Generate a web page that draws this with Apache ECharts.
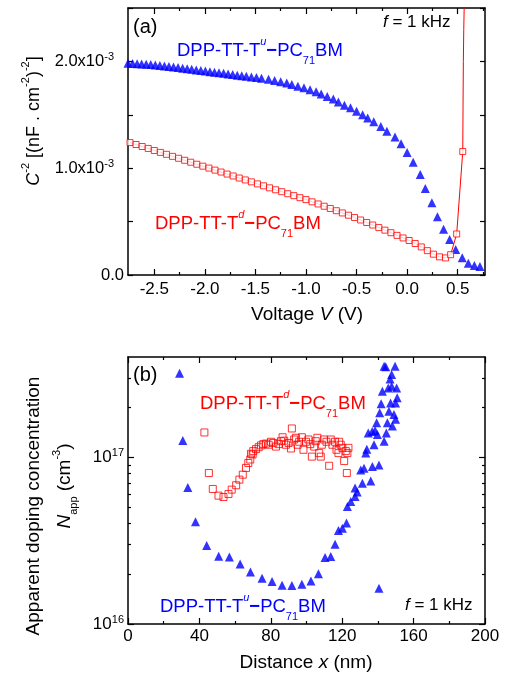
<!DOCTYPE html>
<html><head><meta charset="utf-8">
<script src="https://cdn.jsdelivr.net/npm/echarts@6/dist/echarts.min.js"></script>
<style>html,body{margin:0;padding:0;background:#fff;}#c{width:510px;height:679px;}</style>
</head><body><div id="c"></div>
<script>
// ---------- panel (a): C^-2 vs V ----------
const voltageTicks = [-2.5, -2.0, -1.5, -1.0, -0.5, 0.0, 0.5];
const voltageMinorTicks = [-2.25, -1.75, -1.25, -0.75, -0.25, 0.25, 0.75];
const blueV = [-2.76,-2.715,-2.67,-2.625,-2.58,-2.535,-2.49,-2.445,-2.40,-2.355,-2.31,-2.265,-2.22,-2.175,-2.13,-2.085,-2.04,-1.995,-1.95,-1.905,-1.86,-1.815,-1.77,-1.725,-1.68,-1.635,-1.59,-1.54,-1.49,-1.44,-1.37,-1.31,-1.25,-1.19,-1.14,-1.08,-1.02,-0.96,-0.90,-0.85,-0.79,-0.73,-0.68,-0.62,-0.56,-0.50,-0.44,-0.39,-0.33,-0.26,-0.20,-0.12,-0.06,0.00,0.06,0.13,0.18,0.245,0.30,0.36,0.42,0.48,0.545,0.605,0.665,0.72,0.775];
const blueC = [1.982,1.980,1.977,1.975,1.973,1.970,1.967,1.962,1.957,1.952,1.947,1.942,1.936,1.931,1.926,1.920,1.915,1.909,1.904,1.898,1.893,1.888,1.882,1.877,1.871,1.866,1.860,1.855,1.849,1.843,1.834,1.821,1.809,1.797,1.784,1.768,1.753,1.734,1.715,1.694,1.671,1.647,1.621,1.590,1.565,1.534,1.500,1.469,1.434,1.390,1.347,1.291,1.228,1.148,1.055,0.940,0.810,0.676,0.546,0.428,0.332,0.238,0.162,0.110,0.088,0.080,0.082];
const redV = [-2.74,-2.68,-2.62,-2.56,-2.50,-2.44,-2.38,-2.32,-2.26,-2.20,-2.14,-2.08,-2.02,-1.96,-1.90,-1.84,-1.78,-1.72,-1.66,-1.60,-1.54,-1.48,-1.42,-1.36,-1.30,-1.24,-1.18,-1.12,-1.06,-1.00,-0.94,-0.88,-0.82,-0.76,-0.70,-0.64,-0.58,-0.52,-0.46,-0.40,-0.34,-0.28,-0.22,-0.16,-0.10,-0.04,0.02,0.08,0.14,0.20,0.26,0.32,0.38,0.43,0.49,0.55];
const redC = [1.240,1.222,1.203,1.185,1.166,1.148,1.130,1.111,1.093,1.074,1.056,1.037,1.019,1.001,0.982,0.964,0.945,0.927,0.908,0.890,0.872,0.853,0.835,0.816,0.798,0.780,0.761,0.743,0.724,0.706,0.685,0.665,0.644,0.623,0.602,0.581,0.560,0.538,0.515,0.492,0.468,0.444,0.420,0.396,0.371,0.347,0.323,0.295,0.263,0.228,0.195,0.170,0.160,0.190,0.384,1.156];
const redTailV = [0.553, 0.556, 0.560, 0.566];
const redTailC = [1.6, 2.0, 2.3, 2.6];

// ---------- panel (b): N_app vs distance ----------
const blueX = [28.9,30.7,33.5,37.8,44.1,50.8,56.8,62.8,68.6,75.1,80.7,86.3,91.8,97.4,102.5,106.7,110.4,113.6,116.0,117.9,120.1,122.4,122.9,124.8,127.2,127.2,128.4,131.3,130.4,132.2,133.2,136.0,136.9,137.8,134.6,136.8,138.4,139.3,139.7,140.6,140.6,141.0,142.5,143.5,144.4,143.5,144.7,145.3,146.2,147.1,145.8,147.7,147.7,149.6,148.1,149.0,149.9,150.8,150.5,149.9,133.8,141.8,146.8];
const blueN = [3.2e17,1.26e17,6.6e16,4.1e16,2.96e16,2.55e16,2.52e16,2.29e16,2.05e16,1.88e16,1.80e16,1.71e16,1.70e16,1.73e16,1.81e16,2.0e16,2.51e16,2.54e16,3.01e16,3.64e16,3.76e16,4.03e16,5.07e16,5.44e16,5.83e16,6.55e16,6.2e16,7.0e16,8.4e16,8.6e16,1.06e17,7.2e16,8.8e16,1.19e17,1.40e17,1.43e17,1.45e17,1.61e17,1.37e17,1.64e16,9.0e16,1.85e17,2.49e17,3.52e17,3.5e17,1.25e17,1.40e17,1.61e17,1.89e17,2.12e17,2.61e17,2.67e17,3.14e17,3.52e17,1.54e17,1.81e17,2.12e17,2.28e17,2.61e17,1.69e17,1.12e17,2.1e17,2.95e17];
const redX = [42.8,45.3,47.5,50.7,53.5,56.3,58.1,60.6,62.4,64.3,66.1,67.4,68.5,69.8,68.9,70.2,71.7,73.2,74.5,75.8,77.3,78.8,80.1,81.4,82.9,84.4,85.7,86.6,87.5,88.5,90.0,91.3,91.8,93.1,94.1,95.0,95.9,97.4,98.3,99.7,101.1,102.1,103.0,104.3,105.2,106.1,107.1,108.0,108.6,109.9,111.2,112.7,113.6,114.5,116.0,116.8,117.9,118.3,119.2,120.1,121.1,122.0,122.6,122.9,123.5];
const redN = [1.41e17,8.05e16,6.46e16,5.89e16,5.78e16,6.03e16,6.4e16,6.8e16,7.35e16,7.87e16,8.64e16,9.25e16,9.7e16,1.04e17,1.05e17,1.09e17,1.12e17,1.15e17,1.18e17,1.20e17,1.21e17,1.19e17,1.24e17,1.22e17,1.16e17,1.20e17,1.25e17,1.32e17,1.26e17,1.19e17,1.22e17,1.13e17,1.49e17,1.28e17,1.31e17,1.19e17,1.24e17,1.32e17,1.11e17,1.24e17,1.28e17,1.20e17,1.01e17,1.16e17,1.25e17,1.31e17,1.06e17,1.01e17,1.19e17,1.28e17,1.24e17,8.9e16,1.28e17,1.19e17,1.24e17,1.11e17,1.06e17,1.24e17,1.19e17,1.14e17,9.5e16,1.09e17,8.05e16,1.06e17,1.14e17];
const logMajorTicks = [16, 17];
const logMinorValues = [2e16,3e16,4e16,5e16,6e16,7e16,8e16,9e16,2e17,3e17];

// ---------- rendering ----------
const FONT = '"Liberation Sans", Arial, Helvetica, sans-serif';
const BLUE = '#0000ff', RED = '#ff0000', BLACK = '#000000';
const LOGMIN = 1e16, LOGMAX = 4e17;
const zip = (a, b) => a.map((v, i) => [v, b[i]]);
const logMinorTicks = logMinorValues.map(v => Math.log10(v));

const line = show => ({show: show, onZero: false, lineStyle: {color: BLACK, width: 1.5}});
const tick = (vals, len) => ({show: true, inside: true, length: len, customValues: vals, lineStyle: {color: BLACK, width: 1.2}});
const noLabel = {show: false};
const noSplit = {show: false};

const axisRich = {
  sup: {fontSize: 11, fontFamily: FONT, color: BLACK, lineHeight: 12, verticalAlign: 'top'},
  supp: {fontSize: 11, fontFamily: FONT, color: BLACK, lineHeight: 12, verticalAlign: 'top', padding: [0, 10, 0, 0]}
};

function richLabel(color) {
  return {
    n: {fontSize: 18.5, fontFamily: FONT, fill: color, lineHeight: 30},
    d: {fontSize: 18.5, fontFamily: FONT, fontWeight: 'bold', fill: color, lineHeight: 30},
    sup: {fontSize: 11, fontFamily: FONT, fontStyle: 'italic', fill: color, lineHeight: 12, verticalAlign: 'top'},
    sub: {fontSize: 11, fontFamily: FONT, fill: color, lineHeight: 12, verticalAlign: 'bottom'}
  };
}
function titleRich(size) {
  return {
    t: {fontSize: size, fontFamily: FONT, fill: BLACK, lineHeight: 28},
    i: {fontSize: size, fontFamily: FONT, fontStyle: 'italic', fill: BLACK, lineHeight: 28},
    sup: {fontSize: 11, fontFamily: FONT, fill: BLACK, lineHeight: 12, verticalAlign: 'top'},
    sub: {fontSize: 11, fontFamily: FONT, fill: BLACK, lineHeight: 12, verticalAlign: 'bottom'}
  };
}
function txt(x, y, text, rich, align, rotation) {
  return {type: 'text', x: x, y: y, rotation: rotation || 0, z: 100,
    style: {text: text, rich: rich, align: align || 'left', verticalAlign: 'middle', fontFamily: FONT, fontSize: 18, fill: BLACK}};
}
const legendTxt = (c) => '{n|DPP-TT-T}{sup|' + c + '}{d|\u2212}{n|PC}{sub|71}{n|BM}';

const option = {
  animation: false,
  backgroundColor: '#ffffff',
  grid: [
    {left: 128, top: 8, width: 357, height: 267},
    {left: 128, top: 357, width: 357, height: 267}
  ],
  xAxis: [
    {gridIndex: 0, type: 'value', position: 'bottom', min: -2.76, max: 0.77, axisLine: line(true), axisTick: tick(voltageTicks, 6),
      axisLabel: {show: true, customValues: voltageTicks, formatter: v => v.toFixed(1), fontSize: 17, fontFamily: FONT, color: BLACK, margin: 6}, splitLine: noSplit},
    {gridIndex: 0, type: 'value', position: 'bottom', min: -2.76, max: 0.77, axisLine: line(false), axisTick: tick(voltageMinorTicks, 3), axisLabel: noLabel, splitLine: noSplit},
    {gridIndex: 0, type: 'value', position: 'top', min: -2.76, max: 0.77, axisLine: line(true), axisTick: tick(voltageTicks, 6), axisLabel: noLabel, splitLine: noSplit},
    {gridIndex: 0, type: 'value', position: 'top', min: -2.76, max: 0.77, axisLine: line(false), axisTick: tick(voltageMinorTicks, 3), axisLabel: noLabel, splitLine: noSplit},
    {gridIndex: 1, type: 'value', position: 'bottom', min: 0, max: 200, interval: 40, axisLine: line(true),
      axisTick: {show: true, inside: true, length: 6, lineStyle: {color: BLACK, width: 1.2}},
      minorTick: {show: true, splitNumber: 2, length: 3, lineStyle: {color: BLACK, width: 1.2}},
      axisLabel: {show: true, fontSize: 17, fontFamily: FONT, color: BLACK, margin: 4}, splitLine: noSplit},
    {gridIndex: 1, type: 'value', position: 'top', min: 0, max: 200, interval: 40, axisLine: line(true),
      axisTick: {show: true, inside: true, length: 6, lineStyle: {color: BLACK, width: 1.2}},
      minorTick: {show: true, splitNumber: 2, length: 3, lineStyle: {color: BLACK, width: 1.2}},
      axisLabel: noLabel, splitLine: noSplit}
  ],
  yAxis: [
    {gridIndex: 0, type: 'value', position: 'left', min: 0, max: 2.5, interval: 0.5, axisLine: line(true),
      axisTick: {show: true, inside: true, length: 5, lineStyle: {color: BLACK, width: 1.2}},
      axisLabel: {show: true, margin: 4, fontSize: 16.5, fontFamily: FONT, color: BLACK, lineHeight: 20, rich: axisRich,
        formatter: v => {
          if (Math.abs(v - Math.round(v)) > 1e-6) return '';
          if (Math.abs(v) < 1e-9) return '0.0';
          return v.toFixed(1) + 'x10{supp|-3}';
        }}, splitLine: noSplit},
    {gridIndex: 0, type: 'value', position: 'right', min: 0, max: 2.5, interval: 0.5, axisLine: line(true),
      axisTick: {show: true, inside: true, length: 5, lineStyle: {color: BLACK, width: 1.2}}, axisLabel: noLabel, splitLine: noSplit},
    {gridIndex: 1, type: 'log', logBase: 10, position: 'left', min: LOGMIN, max: LOGMAX, axisLine: {show: false, onZero: false},
      axisTick: {show: false}, axisLabel: noLabel, splitLine: noSplit},
    {gridIndex: 1, type: 'value', position: 'left', min: Math.log10(LOGMIN), max: Math.log10(LOGMAX), axisLine: line(true),
      axisTick: tick(logMajorTicks, 6),
      axisLabel: {show: true, customValues: logMajorTicks, margin: 4, fontSize: 17, fontFamily: FONT, color: BLACK, lineHeight: 20, rich: axisRich, formatter: v => '10{sup|' + Math.round(v) + '}'}, splitLine: noSplit},
    {gridIndex: 1, type: 'value', position: 'left', min: Math.log10(LOGMIN), max: Math.log10(LOGMAX), axisLine: line(false),
      axisTick: tick(logMinorTicks, 3), axisLabel: noLabel, splitLine: noSplit},
    {gridIndex: 1, type: 'value', position: 'right', min: Math.log10(LOGMIN), max: Math.log10(LOGMAX), axisLine: line(true),
      axisTick: tick(logMajorTicks, 6), axisLabel: noLabel, splitLine: noSplit},
    {gridIndex: 1, type: 'value', position: 'right', min: Math.log10(LOGMIN), max: Math.log10(LOGMAX), axisLine: line(false),
      axisTick: tick(logMinorTicks, 3), axisLabel: noLabel, splitLine: noSplit}
  ],
  series: [
    {type: 'scatter', xAxisIndex: 0, yAxisIndex: 0, data: zip(blueV, blueC), symbol: 'triangle', symbolSize: 9,
      itemStyle: {color: BLUE}, z: 2, clip: true},
    {type: 'line', xAxisIndex: 0, yAxisIndex: 0, data: zip(redV.concat(redTailV), redC.concat(redTailC)), showSymbol: false, symbol: 'none',
      lineStyle: {color: RED, width: 1}, z: 3, clip: true},
    {type: 'scatter', xAxisIndex: 0, yAxisIndex: 0, data: zip(redV, redC), symbol: 'rect', symbolSize: 6,
      itemStyle: {color: '#ffffff', borderColor: RED, borderWidth: 1}, z: 4, clip: true},
    {type: 'scatter', xAxisIndex: 4, yAxisIndex: 2, data: zip(blueX, blueN), symbol: 'triangle', symbolSize: 9,
      itemStyle: {color: BLUE}, z: 2, clip: true},
    {type: 'scatter', xAxisIndex: 4, yAxisIndex: 2, data: zip(redX, redN), symbol: 'rect', symbolSize: 7,
      itemStyle: {color: 'rgba(255,255,255,0)', borderColor: RED, borderWidth: 1}, z: 3, clip: true}
  ],
  graphic: [
    txt(133, 27, '{t|(a)}', {t: {fontSize: 20, fontFamily: FONT, fill: BLACK}}),
    txt(133, 375, '{t|(b)}', {t: {fontSize: 20, fontFamily: FONT, fill: BLACK}}),
    txt(383, 22, '{i|f}{t| = 1 kHz}', titleRich(17)),
    txt(405, 605, '{i|f}{t| = 1 kHz}', titleRich(17)),
    txt(177, 51, legendTxt('u'), richLabel(BLUE)),
    txt(155, 224, legendTxt('d'), richLabel(RED)),
    txt(200, 404, legendTxt('d'), richLabel(RED)),
    txt(160, 607, legendTxt('u'), richLabel(BLUE)),
    txt(307, 315, '{t|Voltage }{i|V}{t| (V)}', titleRich(19), 'center'),
    txt(306, 663, '{t|Distance }{i|x}{t| (nm)}', titleRich(19), 'center'),
    txt(34, 121, '{i|C}{sup|-2}{t| [(nF . cm}{sup|-2}{t|)}{sup|-2}{t|]}', titleRich(18), 'center', Math.PI / 2),
    txt(34, 506, '{t|Apparent doping concentration}', titleRich(19), 'center', Math.PI / 2),
    txt(65, 486, '{i|N}{sub|app}{t| (cm}{sup|-3}{t|)}', titleRich(19), 'center', Math.PI / 2)
  ]
};
const chart = echarts.init(document.getElementById('c'));
chart.setOption(option);
</script>
</body></html>
